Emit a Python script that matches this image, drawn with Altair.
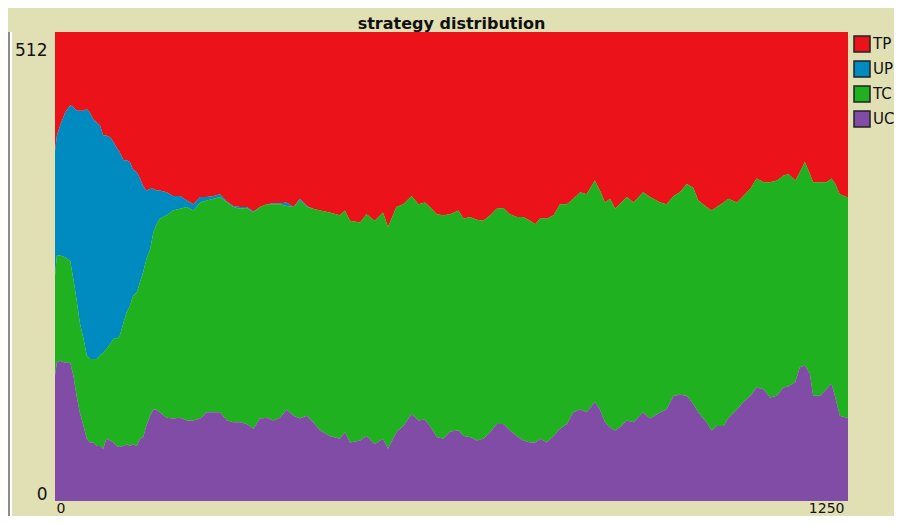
import altair as alt
import pandas as pd

# ticks (x) and counts of each strategy
ticks = [0, 3, 8, 16, 24, 29, 34, 39, 45, 50, 55, 60, 66, 71, 76, 81, 87, 92, 97, 102,
         108, 113, 118, 123, 129, 134, 139, 144, 150, 155, 160, 165, 176, 186, 197, 208,
         218, 229, 239, 250, 260, 271, 281, 292, 302, 313, 323, 334, 344, 355, 365, 376,
         386, 397, 407, 418,
         433, 449, 457, 465, 481, 491, 504, 517, 525, 538, 549, 562, 573, 583, 591, 602,
         612, 623, 636, 644, 654, 665, 675, 686, 696, 707, 717, 728, 738, 749, 757, 765,
         775, 786, 796, 807, 817, 828, 838, 851, 859, 867, 875, 883, 893, 901, 912, 927,
         938, 954, 964, 975, 985, 996, 1006, 1014, 1027, 1035, 1043, 1054, 1061, 1075,
         1085, 1096, 1106, 1117, 1127, 1138, 1148, 1156, 1167, 1174, 1182, 1190, 1195,
         1206, 1216, 1224, 1230, 1237, 1248, 1250]

UC = [137, 151, 153, 151, 151, 137, 115, 97, 82, 68, 64, 64, 60, 60, 57, 68, 66, 64, 60, 59,
      60, 62, 60, 62, 60, 68, 70, 82, 93, 100, 100, 97, 91, 90, 91, 88,
      88, 90, 97, 97, 97, 88, 86, 86, 84, 79, 90, 91, 88, 91, 100, 93,
      90, 93, 86, 77,
      71, 68, 75, 64, 66, 71, 62, 68, 57, 75, 82, 95, 88, 89, 82, 70,
      68, 76, 77, 71, 70, 66, 68, 75, 84, 84, 77, 71, 66, 64, 64, 68,
      64, 71, 79, 84, 97, 100, 97, 108, 100, 86, 80, 77, 82, 88, 86, 97,
      90, 97, 100, 115, 116, 115, 106, 97, 86, 77, 82, 82, 90, 100,
      108, 115, 124, 122, 113, 115, 124, 125, 130, 146, 148, 139, 115,
      115, 122, 128, 113, 93, 91, 91]

TC = [109, 117, 115, 115, 111, 105, 105, 98, 95, 91, 91, 91, 95, 99, 105, 98, 105, 113, 117, 121,
      135, 144, 153, 162, 168, 171, 180, 182, 182, 193, 202, 211, 221, 227, 228, 233,
      229, 236, 231, 233, 235, 238, 235, 233, 236, 236, 231, 233, 236, 233, 222, 228,
      238, 228, 233, 240,
      244, 244, 242, 242, 238, 242, 244, 247, 242, 246, 242, 238, 236, 237, 239, 243,
      244, 237, 240, 237, 240, 241, 238, 237, 235, 236, 236, 239, 244, 242, 238, 241,
      244, 241, 245, 240, 233, 237, 238, 242, 239, 240, 250, 242, 244, 244, 240, 240,
      242, 229, 224, 218, 221, 231, 236, 231, 235, 240, 239, 244, 240, 226,
      225, 226, 228, 226, 235, 235, 231, 232, 220, 213, 222, 218, 233,
      233, 226, 224, 233, 242, 241, 241]

UP = [136, 131, 142, 158, 170, 188, 206, 231, 249, 269, 269, 262, 258, 251, 237, 233, 226, 215, 209, 201,
      177, 166, 157, 138, 131, 113, 94, 75, 66, 48, 37, 31, 25, 16, 14, 7,
      7, 6, 4, 3, 3, 1, 1, 2, 1, 1, 0, 0, 1, 1, 4, 0,
      2, 1, 0, 0,
      0, 0, 0, 0, 0, 0, 0, 0, 0, 0, 0, 0, 0, 0, 0, 0,
      0, 0, 0, 0, 0, 0, 0, 0, 0, 0, 0, 0, 0, 0, 0, 0,
      0, 0, 0, 0, 0, 0, 0, 0, 0, 0, 0, 0, 0, 0, 0, 0,
      0, 0, 0, 0, 0, 0, 0, 0, 0, 0, 0, 0, 0, 0,
      0, 0, 0, 0, 0, 0, 0, 0, 0, 0, 0, 0, 0,
      0, 0, 0, 0, 0, 0, 0]

TOTAL = 512
TP = [TOTAL - a - b - c for a, b, c in zip(UC, TC, UP)]

strategies = ["TP", "UP", "TC", "UC"]
colors = ["#EC1219", "#008BC0", "#1FB11F", "#804CA6"]
stack_order = {"UC": 0, "TC": 1, "UP": 2, "TP": 3}
series = {"TP": TP, "UP": UP, "TC": TC, "UC": UC}

rows = []
for name, vals in series.items():
    for t, v in zip(ticks, vals):
        rows.append({"tick": t, "strategy": name, "count": v, "ord": stack_order[name]})
df = pd.DataFrame(rows)

W, H = 793, 469
FONT = "DejaVu Sans"

areas = alt.Chart(df).mark_area(interpolate="linear").encode(
    x=alt.X("tick:Q",
            scale=alt.Scale(domain=[0, 1250], nice=False, zero=False),
            axis=alt.Axis(values=[0, 1250], title=None, ticks=False, domain=False, grid=False,
                          format="d",
                          labelFont=FONT, labelFontSize=14, labelColor="#111",
                          labelFlush=False, labelOverlap=False, labelBound=False,
                          labelBaseline="top", labelPadding=0,
                          labelAlign={"expr": "datum.value == 0 ? 'left' : 'right'"},
                          labelOffset={"expr": "datum.value == 0 ? 1 : -4"})),
    y=alt.Y("count:Q", stack="zero",
            scale=alt.Scale(domain=[0, TOTAL], nice=False),
            axis=alt.Axis(values=[0, TOTAL], title=None, ticks=False, domain=False, grid=False,
                          format="d",
                          labelFont=FONT, labelFontSize=17, labelColor="#111",
                          labelFlush=False, labelOverlap=False, labelBound=False,
                          labelPadding=8,
                          labelOffset={"expr": "datum.value == 0 ? -7 : 18"})),
    color=alt.Color("strategy:N",
                    scale=alt.Scale(domain=strategies, range=colors),
                    legend=alt.Legend(title=None, orient="none", legendX=798, legendY=3,
                                      symbolType="square", symbolSize=256,
                                      symbolStrokeColor="#222", symbolStrokeWidth=1.5,
                                      symbolOpacity=1, labelFont=FONT, labelFontSize=15,
                                      labelColor="#111", rowPadding=3, labelOffset=2,
                                      padding=0)),
    order=alt.Order("ord:Q"),
)

frame_df = pd.DataFrame({"k": [0]})
frame_grey = alt.Chart(frame_df).mark_rule(color="#8C8C8C", strokeWidth=2).encode(
    x=alt.value(-46), y=alt.value(0), y2=alt.value(H + 30))
frame_white = alt.Chart(frame_df).mark_rule(color="#FFFFFF", strokeWidth=2).encode(
    x=alt.value(-44), y=alt.value(0), y2=alt.value(H + 30))

chart = alt.layer(frame_grey, frame_white, areas).properties(
    width=W, height=H,
    title=alt.TitleParams("strategy distribution", font=FONT, fontSize=16, fontWeight="bold",
                          color="#111", anchor="middle", offset=-1),
    autosize=alt.AutoSizeParams(type="none"),
    padding={"left": 47, "top": 24, "right": 46, "bottom": 15},
    background="#E1E0B4",
).configure_view(stroke=None)

chart.save("out.html", embed_options={"renderer": "svg", "actions": False})
